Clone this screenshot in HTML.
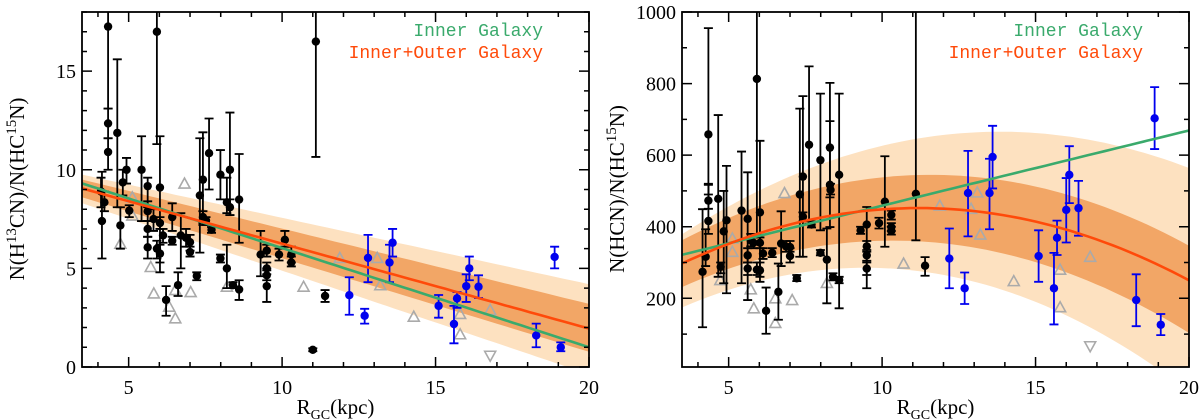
<!DOCTYPE html>
<html><head><meta charset="utf-8"><style>
html,body{margin:0;padding:0;background:#fff;width:1200px;height:420px;overflow:hidden}
svg text{font-family:"Liberation Serif",serif;fill:#000}
</style></head><body>
<svg id="fig" width="1200" height="420" viewBox="0 0 1200 420"></svg>
<script>
// ---------- Left panel data: N(H13CN)/N(HC15N) ----------
const L_blackX=[4.13,4.1,4.21,4.33,4.33,4.33,4.63,4.73,4.81,4.93,5.02,5.42,5.62,5.62,5.62,5.62,5.81,5.92,5.92,6.02,6.02,6.02,6.12,6.22,6.42,6.42,6.61,6.7,6.87,7.0,7.0,7.22,7.32,7.42,7.42,7.52,7.62,7.7,7.99,7.99,8.2,8.2,8.3,8.3,8.4,8.6,8.6,9.3,9.5,9.5,9.5,9.5,9.9,10.09,10.3,10.3,11.1,11.0,11.4];
const L_blackY=[7.4,8.9,8.35,17.26,12.35,10.9,11.87,7.18,9.36,10.0,7.93,10.0,9.17,7.9,7.0,6.07,7.5,17.0,6.0,9.1,7.3,5.75,6.67,3.4,7.6,6.4,4.15,6.67,6.55,6.33,5.83,4.62,8.7,9.5,7.6,7.43,10.84,6.96,9.75,5.5,5.0,8.35,10.0,8.1,4.15,3.93,8.49,5.7,5.9,5.0,4.1,4.65,5.7,6.45,5.7,5.3,16.5,0.87,3.6];
const L_blackHi=[9.9,9.6,8.9,19,13.1,11.6,15.6,8.1,10.0,10.6,8.2,11.7,9.6,8.4,7.4,6.6,8.0,19,6.4,11.7,7.6,6.2,7.0,4.1,8.3,6.6,4.8,7.8,7.0,6.7,6.1,4.8,11.6,11.9,7.9,7.6,12.6,7.1,11.0,5.7,6.2,9.6,12.9,8.5,4.3,4.4,10.8,6.9,6.2,5.3,5.0,4.9,6.0,6.9,6.1,5.6,19,0.95,3.9];
const L_blackLo=[5.5,8.1,7.9,13.1,11.6,10.0,8.1,6.0,8.7,9.3,7.6,7.4,8.1,7.4,6.6,5.5,6.9,11.3,5.5,4.8,7.0,5.3,6.3,2.6,6.9,6.2,3.6,5.0,6.1,5.9,5.6,4.4,5.8,7.2,7.3,7.2,9.0,6.8,8.5,5.3,4.0,7.8,7.7,7.7,4.0,3.4,6.3,4.6,5.6,4.7,3.3,4.4,5.4,6.1,5.3,5.1,10.65,0.8,3.3];
const L_blueX=[12.19,12.69,12.8,13.5,13.6,15.1,15.6,15.7,16.0,16.1,16.4,18.28,18.88,19.08];
const L_blueY=[3.64,2.6,5.53,5.3,6.3,3.1,2.18,3.48,4.1,5.0,4.07,1.6,5.58,1.0];
const L_blueHi=[4.55,2.95,6.7,6.2,7.0,3.65,3.1,3.8,4.7,5.6,4.65,2.2,6.1,1.25];
const L_blueLo=[2.65,2.2,4.3,4.3,5.6,2.5,1.2,3.0,3.3,4.4,3.5,1.0,5.0,0.8];
const L_triX=[4.73,5.12,5.12,5.72,5.82,6.32,6.52,6.52,6.82,7.02,8.2,10.7,11.88,13.1,13.2,14.29,15.8,15.8,16.78];
const L_triY=[6.25,8.6,7.68,5.07,3.73,3.06,2.47,3.9,9.3,3.8,4.07,4.07,5.53,5.53,4.15,2.55,2.69,1.66,2.89];
const L_downX=[16.78];
const L_downY=[0.57];
const L_yTicks=[0,5,10,15];
// fit lines: [value at x=3.5, value at x=20]
const L_innerFit=[9.3,1.0];
const L_allFit=[9.05,1.95];
const L_lightTop=[9.75,4.2], L_lightBot=[8.3,-0.37];
const L_darkTop=[9.5,3.2], L_darkBot=[8.6,0.77];

// ---------- Right panel data: N(HCN)/N(HC15N) ----------
const R_blackX=[4.15,4.25,4.34,4.34,4.34,4.66,4.74,4.84,4.93,5.42,5.62,5.62,5.62,5.72,5.81,5.92,5.92,6.02,6.02,6.02,6.12,6.22,6.42,6.62,6.71,6.87,7.0,7.0,7.22,7.32,7.42,7.42,7.62,7.7,7.99,7.99,8.2,8.3,8.3,8.32,8.6,8.4,8.6,9.3,9.5,9.5,9.5,9.5,9.9,10.09,10.3,10.3,10.3,11.1,11.4];
const R_blackY=[274,316,658,473,416,478,288,387,418,445,422,320,283,362,355,813,280,440,355,278,325,165,327,218,353,345,318,343,256,490,540,428,629,406,586,327,308,517,621,503,545,260,251,390,406,345,320,283,410,470,433,399,388,492,291];
const R_blackHi=[449,393,955,520,517,712,300,500,570,610,552,340,300,380,370,1050,300,640,370,300,340,230,340,297,443,360,340,360,265,730,765,440,848,415,772,335,395,802,695,520,772,270,260,400,455,360,335,300,425,597,445,410,400,1050,315];
const R_blackLo=[119,290,490,450,380,260,270,242,214,242,195,300,265,345,340,380,265,246,340,260,310,101,315,140,290,330,300,330,248,316,316,415,408,398,390,320,186,399,482,490,172,250,242,380,228,330,305,265,395,344,420,388,378,362,263];
const R_blueX=[12.19,12.69,12.8,13.5,13.6,15.1,15.6,15.7,16.0,16.1,16.4,18.28,18.88,19.08];
const R_blueY=[311,228,494,494,595,318,228,369,447,545,452,195,703,126];
const R_blueHi=[395,272,612,590,682,390,327,417,536,625,528,267,790,156];
const R_blueLo=[228,184,373,393,507,246,127,321,356,466,375,122,617,97];
const R_triX=[4.73,5.12,5.12,5.72,5.82,6.52,6.52,6.82,7.07,8.2,10.7,11.88,13.1,12.9,13.2,14.29,15.8,15.8,16.78];
const R_triY=[251,367,330,225,172,200,131,494,195,243,297,459,496,450,378,248,280,175,316];
const R_downX=[16.78];
const R_downY=[66];
const R_yTicks=[200,400,600,800,1000];
// fits: green linear [x=3.5, x=20]; curves as quadratic through (3.5, 11, 20)
const R_innerFit=[322,669];
const R_allFit=[298,452,250];
const R_lightTop=[380,644,564], R_lightBot=[175,278,-60];
const R_darkTop=[363,544,347], R_darkBot=[232,360,103];

const NS='http://www.w3.org/2000/svg';
const svg=document.getElementById('fig');
function mk(tag,attrs,parent){const e=document.createElementNS(NS,tag);for(const k in attrs)e.setAttribute(k,attrs[k]);(parent||svg).appendChild(e);return e;}
const XMIN=3.48,XMAX=20,TOP=12,BOT=367;
function quad(v,x){const xs=[3.5,11,20];let s=0;for(let i=0;i<3;i++){let t=v[i];for(let j=0;j<3;j++)if(j!==i)t*=(x-xs[j])/(xs[i]-xs[j]);s+=t;}return s;}
function lin(v,x){return v[0]+(v[1]-v[0])*(x-3.5)/16.5;}

function panel(cfg){
  const g=mk('g',{});
  
  
  const L=cfg.left,R=cfg.left+507;
  const sx=x=>L+(x-XMIN)/(XMAX-XMIN)*(R-L);
  const sy=y=>BOT-(y-cfg.ymin)/(cfg.ymax-cfg.ymin)*(BOT-TOP);
  const cid='clip'+cfg.id;
  const cp=mk('clipPath',{id:cid},g);mk('rect',{x:L,y:TOP,width:R-L,height:BOT-TOP},cp);
  const plot=mk('g',{'clip-path':'url(#'+cid+')'},g);
  const f=cfg.curve?quad:lin;
  function band(top,bot,color,name){
    let d='';const N=60;
    for(let i=0;i<=N;i++){const x=XMIN+(XMAX-XMIN)*i/N;d+=(i?'L':'M')+sx(x).toFixed(1)+','+sy(f(top,x)).toFixed(1);}
    for(let i=N;i>=0;i--){const x=XMIN+(XMAX-XMIN)*i/N;d+='L'+sx(x).toFixed(1)+','+sy(f(bot,x)).toFixed(1);}
    const p=mk('path',{d:d+'Z',fill:color},plot);
    
    
  }
  band(cfg.lightTop,cfg.lightBot,'#fde1c0','light-uncertainty-band');
  band(cfg.darkTop,cfg.darkBot,'#f2a666','dark-uncertainty-band');
  function curve(v,fn,color,name){
    let d='';const N=60;
    for(let i=0;i<=N;i++){const x=XMIN+(XMAX-XMIN)*i/N;d+=(i?'L':'M')+sx(x).toFixed(1)+','+sy(fn(v,x)).toFixed(1);}
    const p=mk('path',{d:d,fill:'none',stroke:color,'stroke-width':2.6},plot);
    
    
  }
  // triangles
  cfg.triX.forEach((x,i)=>{const cx=sx(x),cy=sy(cfg.triY[i]);
    const t=mk('path',{d:`M${cx-5.5},${cy+4.5}L${cx+5.5},${cy+4.5}L${cx},${cy-5.5}Z`,fill:'none',stroke:'#aaa','stroke-width':1.6},plot);
    
    });
  cfg.downX.forEach((x,i)=>{const cx=sx(x),cy=sy(cfg.downY[i]);
    const t=mk('path',{d:`M${cx-5.5},${cy-4.5}L${cx+5.5},${cy-4.5}L${cx},${cy+5.5}Z`,fill:'none',stroke:'#aaa','stroke-width':1.6},plot);
    
    });
  function pts(X,Y,Hi,Lo,color,name){
    X.forEach((x,i)=>{const cx=sx(x),cy=sy(Y[i]);
      if(Hi[i]!==Lo[i]){const yh=sy(Hi[i]),yl=sy(Lo[i]);
        const e=mk('path',{d:`M${cx},${yh}L${cx},${yl}M${cx-4.5},${yh}L${cx+4.5},${yh}M${cx-4.5},${yl}L${cx+4.5},${yl}`,stroke:color,'stroke-width':1.8,fill:'none'},plot);
        
        }
      const c=mk('circle',{cx:cx,cy:cy,r:4.2,fill:color},plot);
      
      });
  }
  pts(cfg.blackX,cfg.blackY,cfg.blackHi,cfg.blackLo,'#000','inner-galaxy-point');
  pts(cfg.blueX,cfg.blueY,cfg.blueHi,cfg.blueLo,'#0000ee','outer-galaxy-point');
  curve(cfg.innerFit,lin,'#3aaa6c','inner-galaxy-fit');
  curve(cfg.allFit,f,'#ff4a0a','inner-outer-galaxy-fit');
  // frame
  const fr=mk('rect',{x:L,y:TOP,width:R-L,height:BOT-TOP,fill:'none',stroke:'#000','stroke-width':1.8},g);
  
  
  let td='';
  for(let x=4;x<=20;x++){const px=sx(x),len=(x%5===0)?10:5;td+=`M${px},${BOT}L${px},${BOT-len}M${px},${TOP}L${px},${TOP+len}`;}
  for(let y=Math.ceil(cfg.ymin/cfg.minor)*cfg.minor;y<=cfg.ymax;y+=cfg.minor){const py=sy(y),len=(Math.round(y/cfg.minor)%cfg.majEvery===0)?10:5;td+=`M${L},${py}L${L+len},${py}M${R},${py}L${R-len},${py}`;}
  mk('path',{d:td,stroke:'#000','stroke-width':1.5,fill:'none'},g);
  [5,10,15,20].forEach(v=>{const t=mk('text',{x:sx(v),y:394,'font-size':20,'text-anchor':'middle'},g);t.textContent=v;
    
    });
  cfg.yTicks.forEach(v=>{const t=mk('text',{x:L-6,y:sy(v)+7,'font-size':20,'text-anchor':'end'},g);t.textContent=v;
    
    });
  const xt=mk('text',{x:(L+R)/2,y:414,'font-size':21,'text-anchor':'middle'},g);
  xt.innerHTML='R<tspan font-size="14" dy="5">GC</tspan><tspan dy="-5">(kpc)</tspan>';
  
  
  const yt=mk('text',{transform:`translate(${L-58},189) rotate(-90)`,'font-size':21,'text-anchor':'middle'},g);
  yt.innerHTML=cfg.ytitle;
  
  
  const l1=mk('text',{x:L+461,y:36,'font-size':18,'text-anchor':'end',style:'fill:#3aaa6c;font-family:"Liberation Mono",monospace'},g);
  l1.textContent='Inner Galaxy';
  
  
  const l2=mk('text',{x:L+461,y:58,'font-size':18,'text-anchor':'end',style:'fill:#ff4a0a;font-family:"Liberation Mono",monospace'},g);
  l2.textContent='Inner+Outer Galaxy';
  
  
}
panel({id:'L',name:'left-panel-h13cn-ratio',left:82,ymin:0,ymax:18,minor:1,majEvery:5,curve:false,
  blackX:L_blackX,blackY:L_blackY,blackHi:L_blackHi,blackLo:L_blackLo,
  blueX:L_blueX,blueY:L_blueY,blueHi:L_blueHi,blueLo:L_blueLo,
  triX:L_triX,triY:L_triY,downX:L_downX,downY:L_downY,yTicks:L_yTicks,
  innerFit:L_innerFit,allFit:L_allFit,lightTop:L_lightTop,lightBot:L_lightBot,darkTop:L_darkTop,darkBot:L_darkBot,
  ytitle:'N(H<tspan font-size="15" dy="-8">13</tspan><tspan dy="8">CN)/N(HC</tspan><tspan font-size="15" dy="-8">15</tspan><tspan dy="8">N)</tspan>'});
panel({id:'R',name:'right-panel-hcn-ratio',left:682,ymin:8,ymax:1000,minor:100,majEvery:2,curve:true,
  blackX:R_blackX,blackY:R_blackY,blackHi:R_blackHi,blackLo:R_blackLo,
  blueX:R_blueX,blueY:R_blueY,blueHi:R_blueHi,blueLo:R_blueLo,
  triX:R_triX,triY:R_triY,downX:R_downX,downY:R_downY,yTicks:R_yTicks,
  innerFit:R_innerFit,allFit:R_allFit,lightTop:R_lightTop,lightBot:R_lightBot,darkTop:R_darkTop,darkBot:R_darkBot,
  ytitle:'N(HCN)/N(HC<tspan font-size="15" dy="-8">15</tspan><tspan dy="8">N)</tspan>'});
</script>
</body></html>
